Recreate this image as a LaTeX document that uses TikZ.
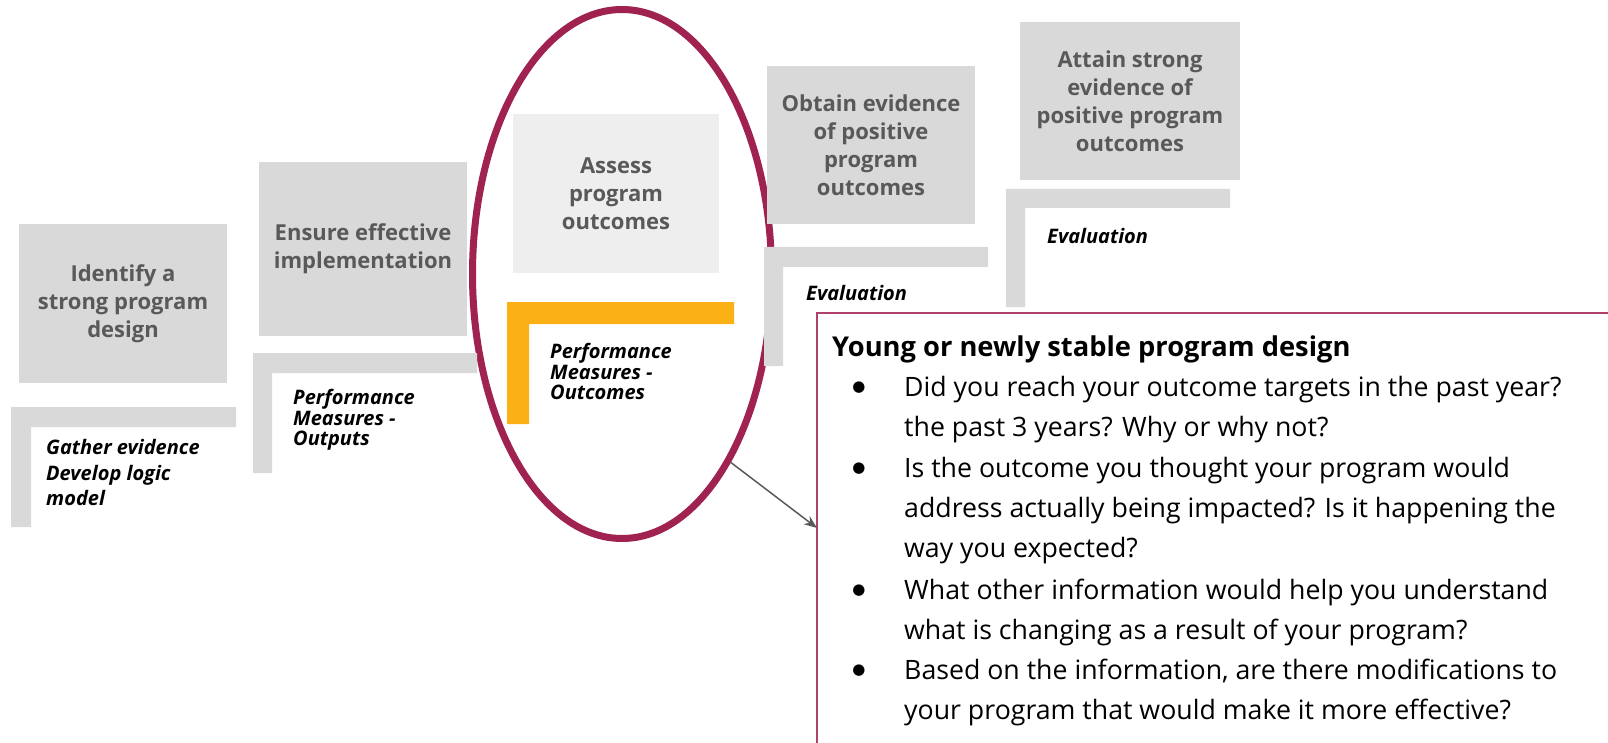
\documentclass[tikz,border=0pt]{standalone}
\usepackage{fontspec}
\setmainfont{Open Sans}
\newfontfamily\dotfont{DejaVu Sans}
\usetikzlibrary{shapes.geometric, arrows.meta, positioning}

\definecolor{stagegray}{HTML}{D9D9D9}
\definecolor{stagelight}{HTML}{EEEEEE}
\definecolor{stagetext}{HTML}{595959}
\definecolor{focusred}{HTML}{9F2250}
\definecolor{pmorange}{HTML}{FBB116}
\definecolor{qborder}{HTML}{B0416C}

\tikzset{
  stagebox/.style={fill=stagegray, text=stagetext, align=center, inner sep=0pt,
    minimum width=208pt, minimum height=159pt,
    font=\fontsize{22}{28}\selectfont\bfseries},
  steplabel/.style={anchor=west, align=left, inner sep=0pt,
    font=\fontsize{20}{20.5}\selectfont\bfseries\itshape},
  qline/.style={anchor=base west, inner sep=0pt, font=\fontsize{26.7}{32}\selectfont},
  arrowline/.style={draw=stagetext, line width=1.5pt, -{Stealth[length=13pt,width=10pt]}}
}

\begin{document}
\begin{tikzpicture}[x=1pt, y=-1pt]
\clip (0,0) rectangle (1608,743);

% ring round the stage in focus
\node[ellipse, draw=focusred, line width=7pt, minimum width=299pt, minimum height=529pt, inner sep=0pt] (focus) at (622,274) {};

% stages
\node[stagebox] (design) at (123,303.5) {Identify a\\strong program\\design};
\node[stagebox, minimum height=174pt] (implement) at (363,249) {Ensure effective\\implementation};
\node[stagebox, fill=stagelight, minimum width=206pt] (assess) at (616,193.5) {Assess\\program\\outcomes};
\node[stagebox, minimum height=158pt] (obtain) at (871,145) {Obtain evidence\\of positive\\program\\outcomes};
\node[stagebox, minimum width=220pt, minimum height=158pt] (attain) at (1130,101) {Attain strong\\evidence of\\positive program\\outcomes};

% brackets under the stages
\fill[stagegray] (11,407) rectangle (236,427) (11,407) rectangle (31,527);
\fill[stagegray] (253,353) rectangle (477,373) (253,353) rectangle (272,473);
\fill[pmorange] (507,302) rectangle (734,324) (507,302) rectangle (529,424);
\fill[stagegray] (764,247) rectangle (988,267) (764,247) rectangle (783,366);
\fill[stagegray] (1006,189) rectangle (1230,208) (1006,189) rectangle (1025,307);

\node[steplabel, font=\fontsize{20}{25.5}\selectfont\bfseries\itshape] (gather) at (46,472.5) {Gather evidence\\Develop logic\\model};
\node[steplabel] (outputs) at (293,420) {Performance\\Measures -\\Outputs};
\node[steplabel] (outcomes) at (550,371.5) {Performance\\Measures -\\Outcomes};
\node[steplabel] (evalone) at (806,293) {Evaluation};
\node[steplabel] (evaltwo) at (1047,236) {Evaluation};

% question box
\draw[qborder, line width=2pt, fill=white] (817,313) rectangle (1620,760);
\coordinate (qin) at (817,528);
\node[qline, font=\fontsize{27.3}{32}\selectfont\bfseries] (qtitle) at (832,356) {Young or newly stable program design};
\foreach \n/\y in {1/387, 2/468, 3/590, 4/670}
  \node[inner sep=0pt, font=\dotfont\fontsize{15}{15}\selectfont] (dot\n) at (859,\y+1) {●};
\foreach \n/\y/\t in {1/387/{Did you reach your outcome targets in the past year?},
    2/427/{the past 3 years? Why or why not?},
    3/468/{Is the outcome you thought your program would},
    4/508/{address actually being impacted? Is it happening the},
    5/548/{way you expected?},
    6/590/{What other information would help you understand},
    7/630/{what is changing as a result of your program?},
    8/670/{Based on the information, are there modifications to},
    9/710/{your program that would make it more effective?}}
  \node[qline] (line\n) at (904,\y+9) {\t};

\draw[arrowline] (focus.-60) -- (qin);
\end{tikzpicture}
\end{document}
